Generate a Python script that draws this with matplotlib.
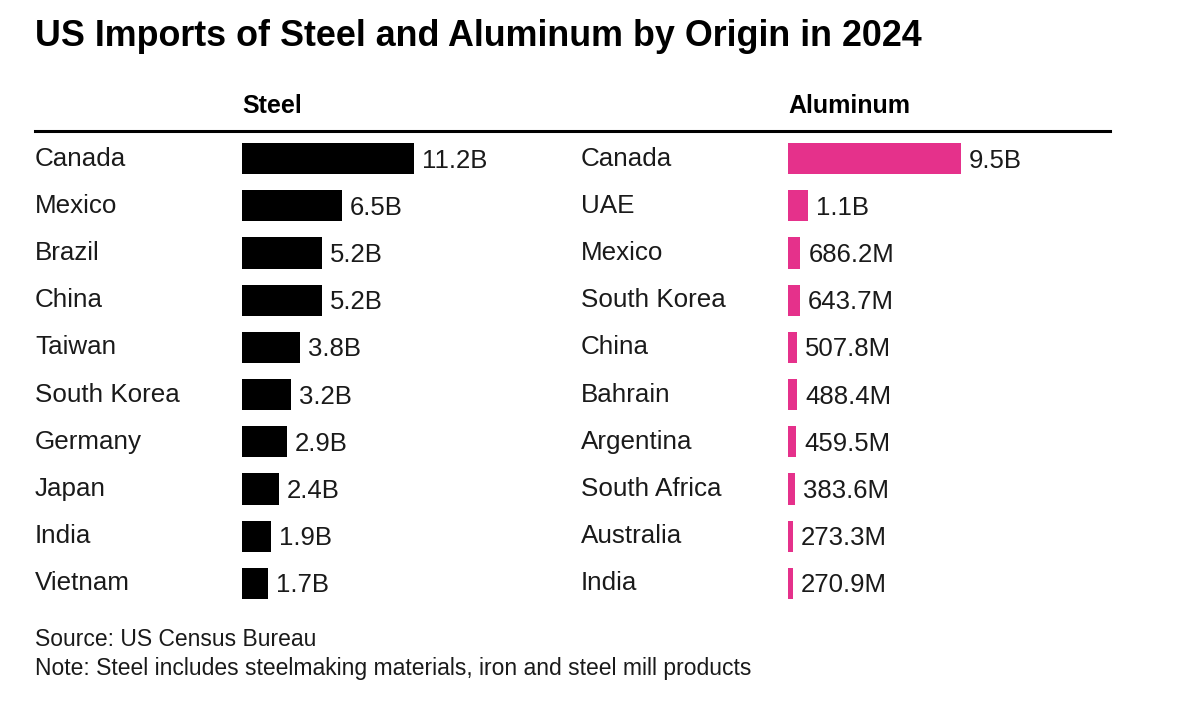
import matplotlib.pyplot as plt
from matplotlib.lines import Line2D
from matplotlib.transforms import blended_transform_factory

plt.rcParams['font.family'] = ['Liberation Sans', 'DejaVu Sans']

steel_countries = ["Canada", "Mexico", "Brazil", "China", "Taiwan", "South Korea",
                   "Germany", "Japan", "India", "Vietnam"]
steel_values = [11.2, 6.5, 5.2, 5.2, 3.8, 3.2, 2.9, 2.4, 1.9, 1.7]  # billions
steel_labels = ["11.2B", "6.5B", "5.2B", "5.2B", "3.8B", "3.2B", "2.9B", "2.4B", "1.9B", "1.7B"]

alu_countries = ["Canada", "UAE", "Mexico", "South Korea", "China", "Bahrain",
                 "Argentina", "South Africa", "Australia", "India"]
alu_values = [9.5, 1.1, 0.6862, 0.6437, 0.5078, 0.4884, 0.4595, 0.3836, 0.2733, 0.2709]
alu_labels = ["9.5B", "1.1B", "686.2M", "643.7M", "507.8M", "488.4M", "459.5M",
              "383.6M", "273.3M", "270.9M"]

W, H = 1196, 716
fig = plt.figure(figsize=(W / 100, H / 100), dpi=100)


def fx(px):
    return px / W


def fy(py):
    return 1 - py / H


def panel(left_px, label_px, names, values, labels, color, header, px_per_unit):
    top, bottom = 135, 607
    width = 320
    ax = fig.add_axes([fx(left_px), fy(bottom), fx(width), (bottom - top) / H])
    ax.barh(range(len(values)), values, height=0.66, color=color, align='center')
    ax.set_xlim(0, width / px_per_unit)
    ax.set_ylim(len(values) - 0.5, -0.5)
    ax.axis('off')
    for i, (v, lab) in enumerate(zip(values, labels)):
        ax.annotate(lab, (v, i), xytext=(8, -2), textcoords='offset pixels',
                    va='center', ha='left', fontsize=18.5, color='#1a1a1a')
    trans = blended_transform_factory(fig.transFigure, ax.transData)
    for i, name in enumerate(names):
        ax.text(fx(label_px), i, name, transform=trans, va='center', ha='left',
                fontsize=18.7, color='#1a1a1a')
    fig.text(fx(left_px), fy(106), header, fontsize=18, fontweight='bold',
             va='center', ha='left', color='black')
    return ax


panel(242, 35, steel_countries, steel_values, steel_labels, 'black', 'Steel', 172 / 11.2)
panel(788, 581, alu_countries, alu_values, alu_labels, '#e5318b', 'Aluminum', 173 / 9.5)

fig.add_artist(Line2D([fx(35), fx(1110)], [fy(131), fy(131)], color='black',
                      linewidth=2.2, transform=fig.transFigure))

fig.text(fx(35), fy(37), "US Imports of Steel and Aluminum by Origin in 2024",
         fontsize=25.8, fontweight='bold', va='center', ha='left', color='black')
fig.text(fx(35), fy(640), "Source: US Census Bureau", fontsize=16.5,
         va='center', ha='left', color='#1a1a1a')
fig.text(fx(35), fy(668), "Note: Steel includes steelmaking materials, iron and steel mill products",
         fontsize=16.5, va='center', ha='left', color='#1a1a1a')

fig.savefig("out.png", dpi=100, facecolor='white')
